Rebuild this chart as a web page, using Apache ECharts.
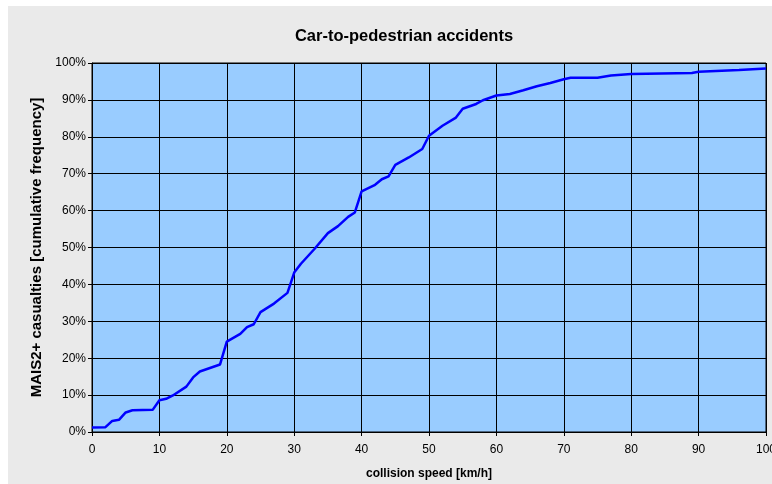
<!DOCTYPE html>
<html>
<head>
<meta charset="utf-8">
<script src="https://cdn.jsdelivr.net/npm/echarts@6/dist/echarts.min.js"></script>
<style>
html,body{margin:0;padding:0;background:#ffffff;}
#chart{width:772px;height:484px;}
</style>
</head>
<body>
<div id="chart"></div>
<script>
const titleText = 'Car-to-pedestrian accidents';
const xAxisName = 'collision speed [km/h]';
const yAxisName = 'MAIS2+ casualties [cumulative frequency]';
const speeds = [0,2,3,4,5,6,9,10,11,12,14,15,16,19,20,22,23,24,25,27,29,30,31,33,35,36.5,38,39,40,42,43,44,45,47,49,50,52,54,55,57,58,60,62,64,66,68,70,71,75,77,80,89,90,96,100];
const cumFreq = [1.2,1.3,3.0,3.3,5.3,5.9,6.0,8.6,9.0,9.9,12.3,14.8,16.4,18.3,24.5,26.6,28.4,29.2,32.5,34.8,37.7,43.2,45.6,49.6,53.9,55.8,58.3,59.5,65.2,67.0,68.5,69.3,72.4,74.4,76.7,80.3,83.0,85.2,87.6,88.9,89.9,91.2,91.6,92.6,93.7,94.6,95.6,96.0,96.0,96.6,97.0,97.3,97.6,98.1,98.5];

const seriesData = speeds.map((s, i) => [s, cumFreq[i]]);
const font = '"Liberation Sans", Arial, sans-serif';

const chart = echarts.init(document.getElementById('chart'), null, {renderer: 'canvas'});
chart.setOption({
  animation: false,
  backgroundColor: '#ffffff',
  graphic: [{
    type: 'rect', z: -10, silent: true,
    shape: {x: 8, y: 6, width: 764, height: 478},
    style: {fill: '#eaeaea'}
  }],
  title: {
    text: titleText,
    left: 399, top: 23, textAlign: 'center',
    textStyle: {fontFamily: font, fontWeight: 'bold', fontSize: 16.5, color: '#000'}
  },
  grid: {left: 92, right: 6, top: 63, bottom: 52, outerBoundsMode: 'none', containLabel: false, show: true, backgroundColor: '#99ccff', borderColor: '#000', borderWidth: 1},
  xAxis: {
    type: 'value', min: 0, max: 100, interval: 10,
    name: xAxisName, nameLocation: 'middle', nameGap: 36,
    nameTextStyle: {fontFamily: font, fontWeight: 'bold', fontSize: 12, color: '#000'},
    axisLine: {show: true, lineStyle: {color: '#000', width: 1}},
    axisTick: {show: true, inside: false, length: 4, lineStyle: {color: '#000'}},
    axisLabel: {fontFamily: font, fontSize: 12, color: '#000', margin: 12, hideOverlap: false},
    splitLine: {show: true, lineStyle: {color: '#000', width: 1}}
  },
  yAxis: {
    type: 'value', min: 0, max: 100, interval: 10,
    name: yAxisName, nameLocation: 'middle', nameGap: 48, nameRotate: 90,
    nameTextStyle: {fontFamily: font, fontWeight: 'bold', fontSize: 15, color: '#000'},
    axisLine: {show: true, lineStyle: {color: '#000', width: 1}},
    axisTick: {show: true, inside: false, length: 4, lineStyle: {color: '#000'}},
    axisLabel: {fontFamily: font, fontSize: 12, color: '#000', margin: 6, formatter: '{value}%'},
    splitLine: {show: true, lineStyle: {color: '#000', width: 1}}
  },
  series: [{
    type: 'line',
    data: seriesData,
    showSymbol: false,
    symbol: 'none',
    lineStyle: {color: '#0000ff', width: 2.5},
    clip: true
  }]
});
</script>
</body>
</html>
